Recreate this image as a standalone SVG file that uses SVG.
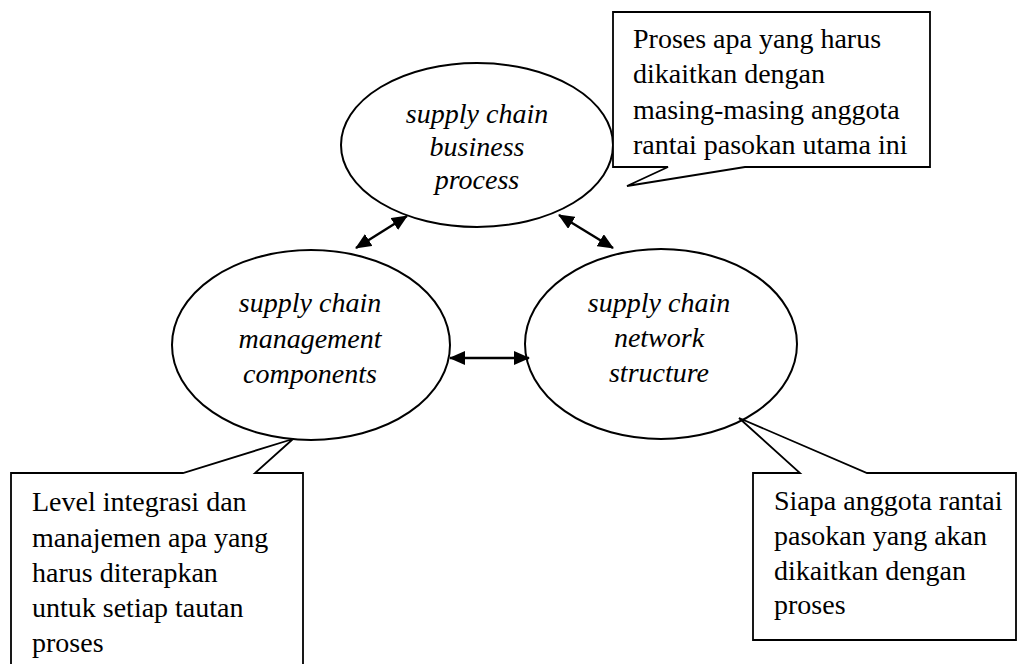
<svg xmlns="http://www.w3.org/2000/svg" width="1019" height="664" viewBox="0 0 1019 664">
  <style>
    .node { fill: #ffffff; stroke: #000000; stroke-width: 2; }
    .callout { fill: #ffffff; stroke: #000000; stroke-width: 1.8; stroke-linejoin: miter; }
    .label { font-family: "Liberation Serif", "Times New Roman", serif; font-size: 28px; font-style: italic; fill: #000000; text-anchor: middle; }
    .note { font-family: "Liberation Serif", "Times New Roman", serif; font-size: 28px; fill: #000000; }
    .link { stroke: #000000; stroke-width: 2.4; fill: none; marker-start: url(#head); marker-end: url(#head); }
  </style>
  <defs>
    <marker id="head" viewBox="0 0 16 14" refX="15" refY="7" markerWidth="16" markerHeight="14" markerUnits="userSpaceOnUse" orient="auto-start-reverse">
      <path d="M0,0 L16,7 L0,14 Z" fill="#000000"/>
    </marker>
  </defs>

  <rect width="1019" height="664" fill="#ffffff"/>

  <!-- process node -->
  <g id="node-business-process">
    <ellipse class="node" cx="477" cy="145" rx="136" ry="82"/>
    <text class="label" x="477" y="123">supply chain</text>
    <text class="label" x="477" y="156">business</text>
    <text class="label" x="477" y="189">process</text>
  </g>

  <!-- components node -->
  <g id="node-management-components">
    <ellipse class="node" cx="311" cy="345" rx="139" ry="95"/>
    <text class="label" x="310" y="312">supply chain</text>
    <text class="label" x="310" y="348">management</text>
    <text class="label" x="310" y="383">components</text>
  </g>

  <!-- network node -->
  <g id="node-network-structure">
    <ellipse class="node" cx="661" cy="344" rx="136" ry="95"/>
    <text class="label" x="659" y="312">supply chain</text>
    <text class="label" x="659" y="347">network</text>
    <text class="label" x="659" y="382">structure</text>
  </g>

  <!-- two-way links between the three nodes -->
  <g id="connectors">
    <line class="link" x1="356" y1="248" x2="407" y2="216"/>
    <line class="link" x1="559" y1="215" x2="613" y2="248"/>
    <line class="link" x1="450" y1="358" x2="529" y2="358"/>
  </g>

  <!-- callout for the process node -->
  <g id="callout-process">
    <path class="callout" d="M613,12 H930 V167 H745 L627,186 L668,167 H613 Z"/>
    <text class="note" x="633" y="48">Proses apa yang harus</text>
    <text class="note" x="633" y="83">dikaitkan dengan</text>
    <text class="note" x="633" y="119">masing-masing anggota</text>
    <text class="note" x="633" y="154">rantai pasokan utama ini</text>
  </g>

  <!-- callout for the components node -->
  <g id="callout-components">
    <path class="callout" d="M11,672 V473 H183 L293,439 L255,473 H303 V672"/>
    <text class="note" x="32" y="511">Level integrasi dan</text>
    <text class="note" x="32" y="547">manajemen apa yang</text>
    <text class="note" x="32" y="582">harus diterapkan</text>
    <text class="note" x="32" y="617">untuk setiap tautan</text>
    <text class="note" x="32" y="652">proses</text>
  </g>

  <!-- callout for the network node -->
  <g id="callout-network">
    <path class="callout" d="M753,640 V473 H800 L739,418 L867,473 H1016 V640 Z"/>
    <text class="note" x="774" y="510">Siapa anggota rantai</text>
    <text class="note" x="774" y="545">pasokan yang akan</text>
    <text class="note" x="774" y="580">dikaitkan dengan</text>
    <text class="note" x="774" y="614">proses</text>
  </g>
</svg>
